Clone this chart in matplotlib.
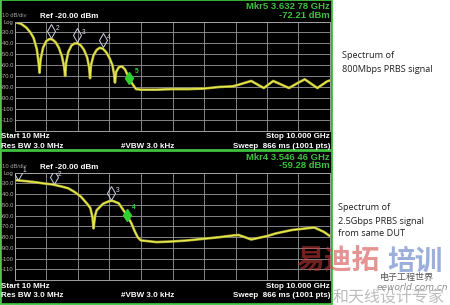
import matplotlib
matplotlib.use("Agg")
import matplotlib.pyplot as plt
from matplotlib.patches import Rectangle

# ---------------- data ----------------
freq1 = [0.01, 0.2, 0.37, 0.5, 0.6, 0.7, 0.76, 0.79, 0.82, 0.9, 1.0, 1.1, 1.2, 1.3, 1.4,
         1.5, 1.57, 1.6, 1.63, 1.7, 1.8, 1.9, 2.0, 2.1, 2.2, 2.3, 2.36, 2.39, 2.42, 2.5,
         2.6, 2.7, 2.8, 2.9, 3.0, 3.1, 3.15, 3.18, 3.22, 3.3, 3.4, 3.5, 3.63, 3.75, 3.85,
         4.0, 4.5, 5.0, 5.5, 6.0, 6.5, 6.9, 7.1, 7.5, 7.9, 8.2, 8.7, 9.0, 9.2, 9.6, 9.9, 10.0]
db1 = [-20.5, -22, -25.5, -30, -35, -45, -58, -67, -55, -44, -38, -36, -36.5, -39, -44,
       -52, -62, -70, -58, -48, -42, -40, -40, -42, -46, -53, -62, -72, -60, -51,
       -46, -44, -45, -48, -53, -60, -68, -76, -66, -62, -61, -64, -72.2, -78, -82,
       -82.5, -82.5, -82, -82, -81.5, -80, -79.5, -78, -74.5, -81, -74.5, -81, -76, -73, -81, -75, -74]

freq2 = [0.01, 0.3, 0.6, 0.9, 1.2, 1.5, 1.7, 1.9, 2.1, 2.3, 2.4, 2.47, 2.5, 2.55, 2.6, 2.8,
         3.0, 3.1, 3.3, 3.55, 3.7, 3.8, 3.9, 4.0, 4.5, 5.0, 5.5, 6.0, 6.5, 6.9, 7.1, 7.3,
         7.5, 8.0, 8.3, 8.8, 9.2, 9.5, 9.8, 10.0]
db2 = [-27, -27.8, -28.7, -30, -31, -33, -34.6, -38, -42.4, -49, -53, -62, -71.8, -60, -55, -49,
       -46.5, -46.2, -48.5, -59.3, -67, -74, -80, -83, -84.6, -84, -83, -81.5, -80, -78.5, -78, -80,
       -82.2, -79, -76.4, -73.3, -72, -71, -75, -79]

mk1_freq = [1.16, 1.99, 2.80, 3.63]
mk1_db = [-35.6, -39.6, -44.0, -72.2]
mk1_lab = ["2", "3", "4", "5"]

mk2_freq = [0.12, 1.24, 3.07, 3.55]
mk2_db = [-27.5, -31.0, -46.2, -59.3]
mk2_lab = ["1", "2", "3", "4"]

ytick_vals = [-20, -30, -40, -50, -60, -70, -80, -90, -100, -110]
ytick_labs = ["Log", "-30.0", "-40.0", "-50.0", "-60.0", "-70.0", "-80.0", "-90.0", "-100", "-110"]

# ---------------- figure ----------------
W, H = 450, 305
fig = plt.figure(figsize=(W / 100, H / 100), dpi=100, facecolor="white")

def fx(x):
    return x / W

def fy(y):
    return 1 - y / H

GREEN = "#3fbf3f"
YEL = "#ecec4c"
FONT = "Liberation Sans"

def panel(y0, y1, axtop, axbot, freq, db, mfreq, mdb, mlab, mkr_title, mkr_val):
    fig.patches.append(Rectangle((fx(0.8), fy(y1)), fx(331.5 - 0.8), (y1 - y0) / H,
                                 transform=fig.transFigure, facecolor="black",
                                 edgecolor=GREEN, linewidth=1.3, zorder=-5))
    ax = fig.add_axes([fx(15), fy(axbot), fx(330 - 15), (axbot - axtop) / H])
    ax.set_zorder(2)
    ax.set_facecolor("black")
    ax.set_xlim(0.01, 10.0)
    ax.set_ylim(-120, -20)
    ax.set_xticks([0.01 + i * (9.99 / 10) for i in range(11)])
    ax.set_xticklabels([])
    ax.set_yticks(ytick_vals)
    ax.set_yticklabels(ytick_labs, fontsize=4.2, color="#b8b8b8", family=FONT)
    ax.tick_params(length=0, pad=1)
    ax.grid(True, color="#9a9a9a", linewidth=0.6)
    for s in ax.spines.values():
        s.set_color("#a0a0a0")
        s.set_linewidth(0.7)
    ax.plot(freq, db, color="#a8a838", linewidth=1.9, solid_joinstyle="round")
    ax.plot(freq, db, color=YEL, linewidth=0.9, solid_joinstyle="round")
    for f, d, l in zip(mfreq, mdb, mlab):
        active = (l == mlab[-1])
        if active:
            ax.plot([f], [d], marker="d", markersize=6, color="#2fd02f",
                    markeredgecolor="#2fd02f", zorder=5)
            ax.annotate(l, (f, d), xytext=(4, 4), textcoords="offset points",
                        color="#2fd02f", fontsize=4.8, family=FONT, fontweight="bold")
        else:
            ax.plot([f], [d + 7], marker="d", markersize=7, markerfacecolor="none",
                    markeredgecolor="#d0d4e8", markeredgewidth=0.7, zorder=5)
            ax.annotate(l, (f, d + 7), xytext=(3, 1), textcoords="offset points",
                        color="#e0e0e0", fontsize=4.8, family=FONT)
    fig.text(fx(330), fy(y0 + 6.5), mkr_title, color=GREEN, fontsize=6.8, family=FONT,
             fontweight="bold", ha="right", va="center")
    fig.text(fx(330), fy(y0 + 15), mkr_val, color=GREEN, fontsize=6.8, family=FONT,
             fontweight="bold", ha="right", va="center")
    fig.text(fx(2), fy(axtop - 6.5), "10 dB/div", color="#a0a0a0", fontsize=4.2,
             family=FONT, ha="left", va="center")
    fig.text(fx(40), fy(axtop - 5.5), "Ref -20.00 dBm", color="white", fontsize=5.8,
             family=FONT, fontweight="bold", ha="left", va="center")
    fig.text(fx(1), fy(axbot + 6), "Start 10 MHz", color="white", fontsize=5.8,
             family=FONT, fontweight="bold", ha="left", va="center")
    fig.text(fx(1), fy(axbot + 15.5), "Res BW 3.0 MHz", color="white", fontsize=5.8,
             family=FONT, fontweight="bold", ha="left", va="center")
    fig.text(fx(121), fy(axbot + 15.5), "#VBW 3.0 kHz", color="white", fontsize=5.8,
             family=FONT, fontweight="bold", ha="left", va="center")
    fig.text(fx(330), fy(axbot + 6), "Stop 10.000 GHz", color="white", fontsize=5.8,
             family=FONT, fontweight="bold", ha="right", va="center")
    fig.text(fx(330), fy(axbot + 15.5), "Sweep  866 ms (1001 pts)", color="white",
             fontsize=5.8, family=FONT, fontweight="bold", ha="right", va="center")
    return ax

panel(0, 149.5, 21.6, 130.5, freq1, db1, mk1_freq, mk1_db, mk1_lab,
      "Mkr5 3.632 78 GHz", "-72.21 dBm")
panel(150.5, 304, 172.6, 280.2, freq2, db2, mk2_freq, mk2_db, mk2_lab,
      "Mkr4 3.546 46 GHz", "-59.28 dBm")

RF = "Open Sans"
fig.text(fx(342), fy(55), "Spectrum of", fontsize=6.6, family=RF, color="#202020",
         ha="left", va="center")
fig.text(fx(342), fy(70), "800Mbps PRBS signal", fontsize=6.6, family=RF, color="#202020",
         ha="left", va="center")
fig.text(fx(338), fy(207), "Spectrum of", fontsize=6.6, family=RF, color="#202020",
         ha="left", va="center")
fig.text(fx(338), fy(221), "2.5Gbps PRBS signal", fontsize=6.6, family=RF, color="#202020",
         ha="left", va="center")
fig.text(fx(338), fy(233), "from same DUT", fontsize=6.6, family=RF, color="#202020",
         ha="left", va="center")

# watermark
CJK = ["Noto Sans CJK SC", "DejaVu Sans"]
fig.text(fx(296), fy(262), "易迪拓", fontsize=20, family=CJK, fontweight="bold",
         color="#d03a3a", alpha=0.55, ha="left", va="center", zorder=5)
fig.text(fx(387), fy(262), "培训", fontsize=20, family=CJK, fontweight="bold",
         color="#4a6cc0", alpha=0.55, ha="left", va="center", zorder=5)
fig.text(fx(380), fy(277), "电子工程世界", fontsize=6.5, family=CJK,
         color="#303030", alpha=0.8, ha="left", va="center", zorder=6)
fig.text(fx(377), fy(287), "eeworld.com.cn", fontsize=6.5, family="DejaVu Sans",
         style="italic", color="#404040", alpha=0.6, ha="left", va="center", zorder=5)
fig.text(fx(333), fy(297.5), "和天线设计专家", fontsize=11.5, family=CJK,
         color="#909090", alpha=0.6, ha="left", va="center", zorder=5)

fig.savefig("out.png", dpi=100, facecolor="white")
